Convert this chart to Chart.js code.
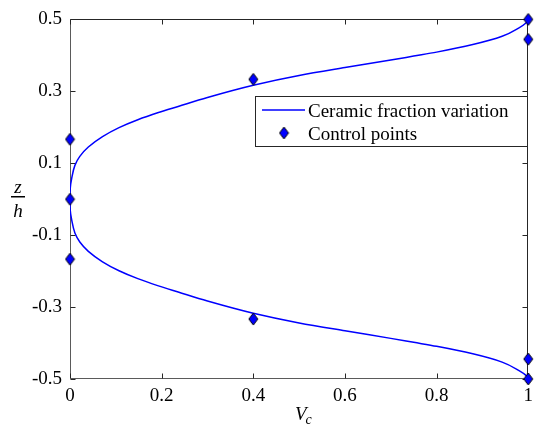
<!DOCTYPE html>
<html><head><meta charset="utf-8">
<script src="https://cdn.jsdelivr.net/npm/chart.js@4.4.1/dist/chart.umd.min.js"></script>
</head>
<body style="margin:0;padding:0;background:#fff">
<div id="wrap" style="width:539px;height:433px;position:relative;font-family:'Liberation Serif';color:#000">
<canvas id="c"></canvas>
<div id="leg1" style="position:absolute;left:308px;top:101px;font-size:19px;line-height:19px;white-space:nowrap"></div>
<div id="leg2" style="position:absolute;left:308px;top:124px;font-size:19px;line-height:19px;white-space:nowrap"></div>
<div id="xt" style="position:absolute;left:295px;top:404px;font-size:19px;line-height:19px;white-space:nowrap;font-style:italic">V<span style="font-size:14px;line-height:14px;position:relative;top:4px;margin-left:-1px">c</span></div>
<div style="position:absolute;left:8px;width:20px;top:177px;font-size:19px;line-height:19px;text-align:center;font-style:italic">z</div>
<div style="position:absolute;left:8px;width:20px;top:201px;font-size:19px;line-height:19px;text-align:center;font-style:italic">h</div>
</div>
<script>
// Curve: ceramic fraction Vc versus z/h
const curveZ = [-0.5,-0.49,-0.476,-0.453,-0.43,-0.409,-0.398,-0.387,-0.366,-0.344,-0.317,-0.283,-0.258,-0.241,-0.221,-0.199,-0.174,-0.145,-0.119,-0.094,-0.057,-0.03,0,
                0.03,0.057,0.094,0.119,0.145,0.174,0.199,0.221,0.241,0.258,0.283,0.317,0.344,0.366,0.387,0.398,0.409,0.43,0.453,0.476,0.49,0.5];
const curveVc = [1,0.995,0.979,0.943,0.879,0.8,0.75,0.7,0.6,0.5,0.4,0.3,0.236,0.193,0.148,0.107,0.071,0.04,0.0214,0.0107,0.0036,0.0005,0,
                 0.0005,0.0036,0.0107,0.0214,0.04,0.071,0.107,0.148,0.193,0.236,0.3,0.4,0.5,0.6,0.7,0.75,0.8,0.879,0.943,0.979,0.995,1];
// Control points
const ctrlVc = [0,0,0,0.4,0.4,1,1,1,1];
const ctrlZ = [0.1667,0,-0.1667,0.3333,-0.3333,0.5,0.4444,-0.4444,-0.5];
// Ticks
const xTicks = [0,0.2,0.4,0.6,0.8,1];
const yTicks = [-0.5,-0.3,-0.1,0.1,0.3,0.5];
const xTickLabels = ['0','0.2','0.4','0.6','0.8','1'];
const yTickLabels = ['-0.5','-0.3','-0.1','0.1','0.3','0.5'];
const seriesNames = ['Ceramic fraction variation','Control points'];

document.getElementById('leg1').textContent = seriesNames[0];
document.getElementById('leg2').textContent = seriesNames[1];

const BLUE = '#0000ff';
const FONT = '"Liberation Serif"';

// warm-up text on a scratch canvas
(function(){ const t=document.createElement('canvas'); t.width=200; t.height=40; const g=t.getContext('2d');
  g.font='19px "Liberation Serif"'; g.fillText('0.5 Ceramic',2,20); g.font='italic 19px "Liberation Serif"'; g.fillText('V',2,30); })();

function makeDiamond(w,h){
  const cv = document.createElement('canvas');
  cv.width = w+2; cv.height = h+2;
  const g = cv.getContext('2d');
  g.beginPath();
  g.moveTo(cv.width/2, 1);
  g.lineTo(cv.width-1, cv.height/2);
  g.lineTo(cv.width/2, cv.height-1);
  g.lineTo(1, cv.height/2);
  g.closePath();
  g.fillStyle = BLUE; g.fill();
  g.strokeStyle = '#000'; g.lineWidth = 1; g.stroke();
  return cv;
}
const diamond = makeDiamond(9,12);

const curveData = curveZ.map((z,i)=>({x:curveVc[i], y:z}));
const ctrlData = ctrlZ.map((z,i)=>({x:ctrlVc[i], y:z}));

const framePlugin = {
  id:'frame',
  beforeDatasetsDraw(chart){
    const {ctx, chartArea:a, scales} = chart;
    ctx.save();
    ctx.lineWidth = 1;
    const L = Math.round(a.left)+0.5, R = Math.round(a.right)-0.5, T = Math.round(a.top)+0.5, B = Math.round(a.bottom)-0.5;
    ctx.strokeStyle = '#262626';
    ctx.beginPath(); ctx.moveTo(L,T); ctx.lineTo(R,T); ctx.lineTo(R,B); ctx.stroke();
    ctx.strokeStyle = '#5a5a5a';
    ctx.beginPath(); ctx.moveTo(L,T); ctx.lineTo(L,B); ctx.lineTo(R,B); ctx.stroke();
    const tl = 5;
    ctx.strokeStyle = '#262626';
    ctx.beginPath();
    xTicks.forEach(v=>{
      const x = Math.round(scales.x.getPixelForValue(v))+0.5;
      ctx.moveTo(x,B); ctx.lineTo(x,B-tl);
      ctx.moveTo(x,T); ctx.lineTo(x,T+tl);
    });
    yTicks.forEach(v=>{
      const y = Math.round(scales.y.getPixelForValue(v))+0.5;
      ctx.moveTo(L,y); ctx.lineTo(L+tl,y);
      ctx.moveTo(R,y); ctx.lineTo(R-tl,y);
    });
    ctx.stroke();
    ctx.restore();
  },
  afterDraw(chart){
    const {ctx} = chart;
    ctx.save();
    ctx.fillStyle = '#000';
    ctx.fillRect(11, 196, 14, 1.5);
    const lx=255, ly=96, lw=272, lh=50;
    ctx.fillStyle='#fff';
    ctx.fillRect(lx,ly,lw,lh);
    ctx.strokeStyle='#262626'; ctx.lineWidth=1;
    ctx.strokeRect(lx+0.5,ly+0.5,lw,lh);
    ctx.strokeStyle=BLUE; ctx.lineWidth=1.5;
    ctx.beginPath(); ctx.moveTo(262,110); ctx.lineTo(305,110); ctx.stroke();
    ctx.drawImage(diamond, 284-diamond.width/2, 133-diamond.height/2);
    ctx.restore();
  }
};

new Chart(document.getElementById('c'), {
  type:'line',
  data:{
    datasets:[
      {label:seriesNames[0], data:curveData, showLine:true, borderColor:BLUE, borderWidth:1.5, pointRadius:0, cubicInterpolationMode:'monotone', fill:false, order:2},
      {label:seriesNames[1], data:ctrlData, showLine:false, pointStyle:diamond, pointRadius:6, clip:false, order:1}
    ]
  },
  plugins:[framePlugin],
  options:{
    indexAxis:'y',
    responsive:true, maintainAspectRatio:false, animation:false,
    layout:{padding:{top:16,right:2,left:0,bottom:0}},
    plugins:{legend:{display:false}, tooltip:{enabled:false}},
    scales:{
      x:{type:'linear', min:0, max:1,
         afterBuildTicks(s){ s.ticks = xTicks.map(v=>({value:v})); },
         afterFit(s){ s.height = 54; },
         grid:{display:false, drawTicks:false}, border:{display:false},
         ticks:{padding:6, color:'#000', font:{family:FONT,size:19}, maxRotation:0, autoSkip:false,
                callback(v){ const i = xTicks.indexOf(v); return i>=0 ? xTickLabels[i] : ''; }}},
      y:{type:'linear', min:-0.5, max:0.5,
         afterBuildTicks(s){ s.ticks = yTicks.map(v=>({value:v})); },
         afterFit(s){ s.width = 70; },
         grid:{display:false, drawTicks:false}, border:{display:false},
         ticks:{padding:8, color:'#000', font:{family:FONT,size:19}, autoSkip:false,
                callback(v){ const i = yTicks.indexOf(v); return i>=0 ? yTickLabels[i] : ''; }}}
    }
  }
});
</script>
</body></html>
